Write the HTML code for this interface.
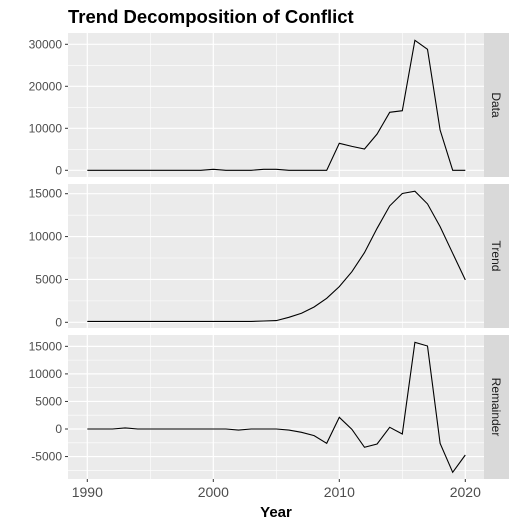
<!DOCTYPE html>
<html><head><meta charset="utf-8"><style>
body{margin:0;background:#fff;}
svg{display:block;font-family:"Liberation Sans",Arial,sans-serif;}
</style></head><body>
<svg id="chart" width="517" height="528">
<text x="68" y="23" font-size="18.5" font-weight="bold" fill="#000">Trend Decomposition of Conflict</text>
<text x="276" y="517" font-size="15" font-weight="bold" text-anchor="middle" fill="#000">Year</text>
</svg>
<script>
const years = [1990,1991,1992,1993,1994,1995,1996,1997,1998,1999,2000,2001,2002,2003,2004,2005,2006,2007,2008,2009,2010,2011,2012,2013,2014,2015,2016,2017,2018,2019,2020];
const dataValues = [0,0,0,0,0,0,0,0,0,0,250,0,0,0,250,250,0,0,0,0,6430,5700,5070,8640,13800,14200,30950,28800,9600,0,0];
const trendValues = [100,100,100,100,100,100,100,100,100,100,100,100,100,100,150,200,580,1050,1790,2800,4160,5900,8130,10970,13580,15020,15290,13810,11160,8050,4940];
const remainderValues = [0,0,0,200,0,0,0,0,0,0,0,0,-200,0,0,0,-200,-600,-1200,-2600,2120,-60,-3330,-2720,300,-910,15730,15060,-2600,-7860,-4720];
const xTicks = [1990,2000,2010,2020];
const xMinor = [1995,2005,2015];
const dataTicks = [0,10000,20000,30000];
const dataMinor = [5000,15000,25000];
const trendTicks = [0,5000,10000,15000];
const trendMinor = [2500,7500,12500];
const remTicks = [-5000,0,5000,10000,15000];
const remMinor = [-7500,-2500,2500,7500,12500];
const stripLabels = ["Data","Trend","Remainder"];

const NS="http://www.w3.org/2000/svg";
const svg=document.getElementById('chart');
function mk(tag,attrs,parent){const e=document.createElementNS(NS,tag);for(const k in attrs)e.setAttribute(k,attrs[k]);(parent||svg).appendChild(e);return e;}
const X0=68,X1=484;
const x=v=>87.3+(v-1990)*12.6;
const panels=[
 {top:33,bot:177,zeroY:170.3,ppu:0.0042,vals:dataValues,ticks:dataTicks,minor:dataMinor,name:'data'},
 {top:184,bot:328,zeroY:322.3,ppu:0.008573,vals:trendValues,ticks:trendTicks,minor:trendMinor,name:'trend'},
 {top:335,bot:479,zeroY:429,ppu:0.00551,vals:remainderValues,ticks:remTicks,minor:remMinor,name:'remainder'}
];
panels.forEach((p,i)=>{
  const y=v=>p.zeroY-v*p.ppu;
  const g=mk('g',{});
  
  
  mk('rect',{x:X0,y:p.top,width:X1-X0,height:p.bot-p.top,fill:'#ebebeb'},g);
  p.minor.forEach(t=>{const yy=y(t);if(yy>p.top&&yy<p.bot)mk('line',{x1:X0,x2:X1,y1:yy,y2:yy,stroke:'#fff','stroke-width':0.6},g);});
  xMinor.forEach(t=>mk('line',{x1:x(t),x2:x(t),y1:p.top,y2:p.bot,stroke:'#fff','stroke-width':0.6},g));
  p.ticks.forEach(t=>{const yy=y(t);
    mk('line',{x1:X0,x2:X1,y1:yy,y2:yy,stroke:'#fff','stroke-width':1.2},g);
    mk('line',{x1:X0-3,x2:X0,y1:yy,y2:yy,stroke:'#333','stroke-width':1},g);
    const tx=mk('text',{x:X0-6,y:yy+4,'font-size':12,'text-anchor':'end',fill:'#4d4d4d'},g);
    tx.textContent=t;
    
    
  });
  xTicks.forEach(t=>mk('line',{x1:x(t),x2:x(t),y1:p.top,y2:p.bot,stroke:'#fff','stroke-width':1.2},g));
  const pts=years.map((yr,j)=>x(yr).toFixed(1)+','+y(p.vals[j]).toFixed(1)).join(' ');
  const line=mk('polyline',{points:pts,fill:'none',stroke:'#000','stroke-width':1.1},g);
  
  
  const strip=mk('rect',{x:X1,y:p.top,width:25,height:p.bot-p.top,fill:'#d9d9d9'},g);
  
  
  const cy=(p.top+p.bot)/2;
  const st=mk('text',{x:0,y:0,'font-size':12,'text-anchor':'middle',fill:'#1a1a1a',transform:`translate(${X1+8},${cy}) rotate(90)`},g);
  st.textContent=stripLabels[i];
  
  
});
xTicks.forEach(t=>{
  mk('line',{x1:x(t),x2:x(t),y1:479,y2:482,stroke:'#333','stroke-width':1});
  const tx=mk('text',{x:x(t),y:497,'font-size':14,'text-anchor':'middle',fill:'#4d4d4d'});
  tx.textContent=t;
  
  
});
</script>
</body></html>
